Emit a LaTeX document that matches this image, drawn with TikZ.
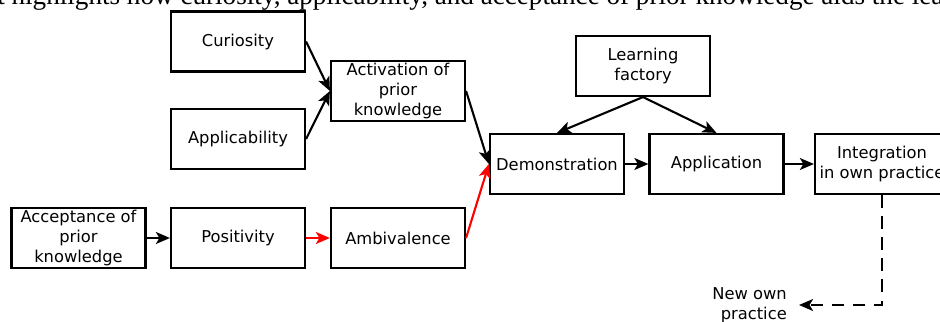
\documentclass[tikz,border=0pt]{standalone}
\definecolor{FlowBlack}{HTML}{000000}
\definecolor{FlowWhite}{HTML}{ffffff}
\definecolor{FlowRed}{HTML}{ff0000}
\usepackage{fontspec}
\setmainfont{DejaVu Sans}
\newfontfamily\captionfont{Liberation Serif}
\usepackage{tikz}
\usetikzlibrary{arrows.meta, positioning}
\tikzset{
    % Box styles with sharp corners
    stage box/.style={
        rectangle,
        draw=FlowBlack,
        fill=FlowWhite,
        line width=1.5pt,
        minimum width=3.35cm,
        minimum height=1.5cm,
        inner sep=1pt,
        align=center,
        font=\fontsize{11.6}{14}\selectfont
    },
    arrow style/.style={
        -{Stealth[length=10pt, width=8.5pt, inset=2.5pt]},
        line width=1.5pt,
        FlowBlack
    },
    red arrow style/.style={
        arrow style,
        FlowRed
    },
    dashed arrow style/.style={
        arrow style,
        dash pattern=on 9pt off 6pt
    }
}
\begin{document}
\begin{tikzpicture}[x=0.025cm, y=-0.025cm]
        \useasboundingbox (0,0) rectangle (940,322);
        \clip (0,0) rectangle (940,322);

        % Caption line cut off by the page
        \node[anchor=base west, inner sep=0pt, font=\captionfont\fontsize{19.3}{21}\selectfont] (caption) at (-3, 4) {t highlights how curiosity, applicability, and acceptance of prior knowledge aids the lea};

        % Left side: attitudes
        \node[stage box] (curiosity) at (238, 41.5) {Curiosity};
        \node[stage box] (applicability) at (238, 139) {Applicability};
        \node[stage box] (activation) at (398, 91) {Activation of\\prior\\knowledge};
        \node[stage box] (acceptance) at (78.5, 238) {Acceptance of\\prior\\knowledge};
        \node[stage box] (positivity) at (238, 238) {Positivity};
        \node[stage box] (ambivalence) at (398, 238) {Ambivalence};

        % Right side: learning factory
        \node[stage box] (factory) at (643, 66) {Learning\\factory};
        \node[stage box] (demonstration) at (557, 164) {Demonstration};
        \node[stage box] (application) at (716.5, 164) {Application};
        \node[stage box] (integration) at (882, 164) {Integration\\in own practice};
        \node[anchor=east, inner xsep=8.5pt, inner ysep=0pt, align=right, font=\fontsize{11.6}{14}\selectfont] (newpractice) at (799, 305) {New own\\practice};

        \draw[arrow style] (curiosity.east) -- (activation.west);
        \draw[arrow style] (applicability.east) -- (activation.west);
        \draw[arrow style] (acceptance) -- (positivity);
        \draw[red arrow style] (positivity) -- (ambivalence);
        \draw[arrow style] (activation.east) -- (demonstration.west);
        \draw[red arrow style] (ambivalence.east) -- (demonstration.west);
        \draw[arrow style] (factory.south) -- (demonstration.north);
        \draw[arrow style] (factory.south) -- (application.north);
        \draw[arrow style] (demonstration) -- (application);
        \draw[arrow style] (application) -- (integration);
        \draw[dashed arrow style] (integration.south) |- (newpractice.east);
    \end{tikzpicture}
\end{document}
